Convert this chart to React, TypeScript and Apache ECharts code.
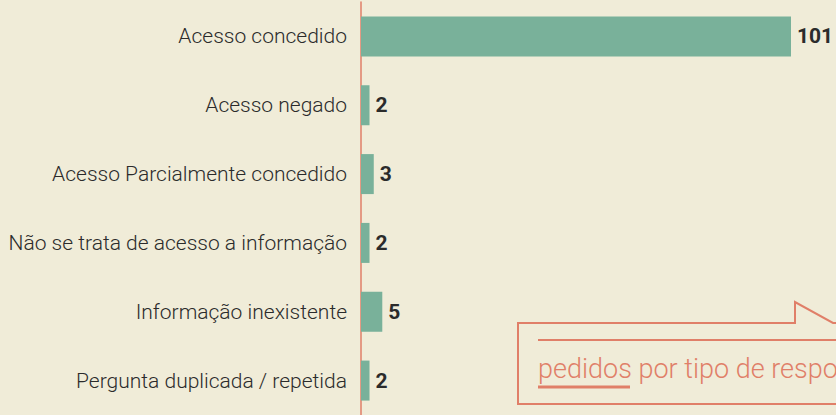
import React, { useEffect, useRef } from "react";
import * as echarts from "echarts";

const categories = [
  "Acesso concedido",
  "Acesso negado",
  "Acesso Parcialmente concedido",
  "Não se trata de acesso a informação",
  "Informação inexistente",
  "Pergunta duplicada / repetida",
];
const values = [101, 2, 3, 2, 5, 2];
const calloutText = "pedidos por tipo de resposta";

const BG = "#f0ecd8";
const BAR = "#79b19a";
const SALMON = "#e07f68";
const TEXT = "#2b2b2b";

export default function App() {
  const ref = useRef<HTMLDivElement>(null);
  useEffect(() => {
    if (!ref.current) return;
    const chart = echarts.init(ref.current, null, { renderer: "svg" });
    chart.setOption({
      animation: false,
      backgroundColor: BG,
      grid: { left: 361, right: 45, top: 2, bottom: -8, containLabel: false },
      xAxis: {
        type: "value",
        min: 0,
        max: 101,
        show: false,
      },
      yAxis: {
        type: "category",
        data: categories,
        inverse: true,
        axisLine: { show: true, lineStyle: { color: SALMON, width: 1.5 } },
        axisTick: { show: false },
        axisLabel: {
          margin: 14,
          color: TEXT,
          fontFamily: "Roboto",
          fontWeight: 300,
          fontSize: 21,
          padding: [8, 0, 0, 0],
        },
        splitLine: { show: false },
      },
      series: [
        {
          type: "bar",
          data: values,
          barWidth: 40,
          itemStyle: { color: BAR },
          label: {
            show: true,
            position: "right",
            distance: 6,
            color: TEXT,
            fontFamily: "Roboto",
            fontWeight: "bold",
            fontSize: 21,
            padding: [4, 0, 0, 0],
          },
        },
      ],
      graphic: [
        {
          type: "polyline",
          shape: {
            points: [
              [850, 404],
              [518, 404],
              [518, 323],
              [795, 323],
              [795, 302],
              [833, 323],
              [850, 323],
            ],
          },
          style: { stroke: SALMON, lineWidth: 2, fill: BG },
          z: 10,
        },
        {
          type: "line",
          shape: { x1: 538, y1: 340, x2: 850, y2: 340 },
          style: { stroke: SALMON, lineWidth: 2 },
          z: 11,
        },
        {
          type: "line",
          shape: { x1: 538, y1: 387, x2: 630, y2: 387 },
          style: { stroke: SALMON, lineWidth: 3 },
          z: 11,
        },
        {
          type: "text",
          x: 538,
          y: 382,
          style: {
            text: calloutText,
            fill: SALMON,
            font: "300 27px Roboto",
            textVerticalAlign: "bottom",
          },
          z: 11,
        },
      ],
    });
    return () => chart.dispose();
  }, []);
  return (
    <div
      ref={ref}
      style={{ position: "fixed", left: 0, top: 0, width: 836, height: 415 }}
    />
  );
}
